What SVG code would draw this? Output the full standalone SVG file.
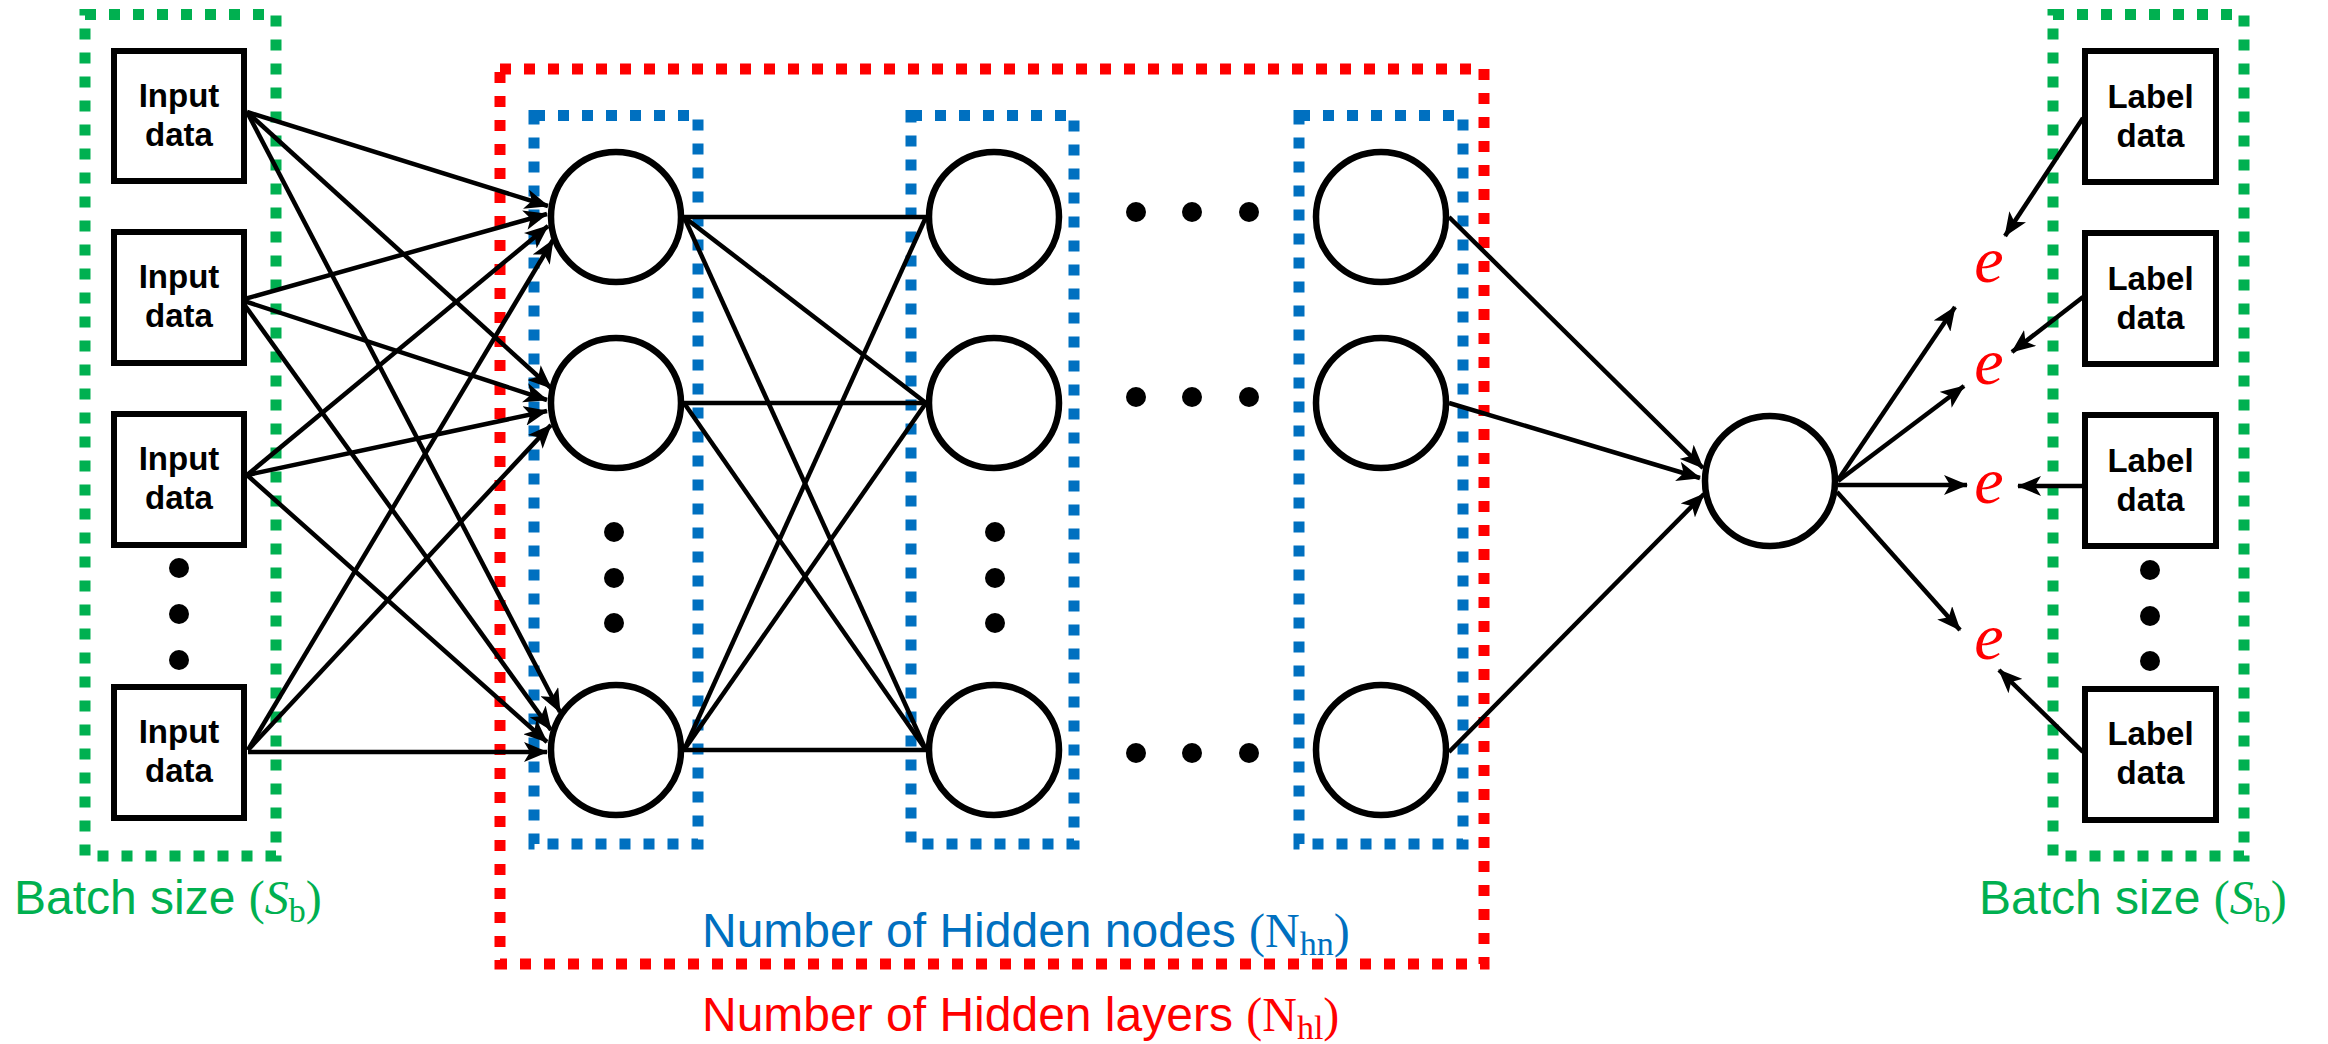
<svg xmlns="http://www.w3.org/2000/svg" width="2328" height="1044" viewBox="0 0 2328 1044">
<defs>
<marker id="ah" markerUnits="userSpaceOnUse" viewBox="0 0 24 20" refX="23" refY="10" markerWidth="24" markerHeight="20" orient="auto">
<path d="M24,10 L0,0 L6,10 L0,20 Z" fill="#000"/>
</marker>
<style>
.bg{fill:#fff}
.gbox{fill:none;stroke:#00B050;stroke-width:11;stroke-dasharray:11 13}
.bbox{fill:none;stroke:#0070C0;stroke-width:11;stroke-dasharray:11 13}
.rbox{fill:none;stroke:#FF0000;stroke-width:11;stroke-dasharray:11 13}
.box{fill:#fff;stroke:#000;stroke-width:6}
.neu{fill:#fff;stroke:#000;stroke-width:6.5}
.bt{font-family:"Liberation Sans",Arial,sans-serif;font-weight:bold;font-size:33px;fill:#000;text-anchor:middle}
.c{stroke:#000;stroke-width:4.5;fill:none}
.a{stroke:#000;stroke-width:4.5;fill:none;marker-end:url(#ah)}
.dot{fill:#000}
.lab{font-family:"Liberation Sans",Arial,sans-serif;font-size:48px}
.m{font-family:"Liberation Serif","DejaVu Serif",serif}
.e{font-family:"Liberation Serif","DejaVu Serif",serif;font-style:italic;font-size:66px;fill:#FF0000;text-anchor:middle}
</style>
</defs>
<rect class="bg" x="0" y="0" width="2328" height="1044"/>

<g id="groups">
<rect id="batch-in" class="gbox" x="85" y="14.5" width="191" height="841.5"/>
<rect id="batch-out" class="gbox" x="2053" y="14.5" width="191" height="841.5"/>
<rect id="hidden-layers" class="rbox" x="500" y="69" width="984" height="895"/>
<rect id="layer1" class="bbox" x="534" y="115.5" width="164" height="728.5"/>
<rect id="layer2" class="bbox" x="911" y="115.5" width="163" height="728.5"/>
<rect id="layer3" class="bbox" x="1299" y="115.5" width="164" height="728.5"/>
</g>

<g id="connectors">
<!-- inputs to layer 1 -->
<line class="a" x1="247" y1="112" x2="548" y2="206"/>
<line class="a" x1="247" y1="112" x2="551" y2="388"/>
<line class="a" x1="247" y1="112" x2="560" y2="712"/>
<line class="a" x1="241" y1="300" x2="547" y2="214"/>
<line class="a" x1="241" y1="300" x2="547" y2="400"/>
<line class="a" x1="241" y1="300" x2="551" y2="730"/>
<line class="a" x1="247" y1="475" x2="548" y2="226"/>
<line class="a" x1="247" y1="475" x2="547" y2="411"/>
<line class="a" x1="247" y1="475" x2="547" y2="742"/>
<line class="a" x1="248" y1="750" x2="553" y2="240"/>
<line class="a" x1="248" y1="750" x2="551" y2="425"/>
<line class="a" x1="248" y1="752" x2="547" y2="752"/>
<!-- layer 1 to layer 2 -->
<line class="c" x1="684" y1="217" x2="926" y2="217"/>
<line class="c" x1="684" y1="217" x2="926" y2="403"/>
<line class="c" x1="684" y1="217" x2="926" y2="750"/>
<line class="c" x1="684" y1="403" x2="926" y2="403"/>
<line class="c" x1="684" y1="403" x2="926" y2="750"/>
<line class="c" x1="684" y1="750" x2="926" y2="217"/>
<line class="c" x1="684" y1="750" x2="926" y2="403"/>
<line class="c" x1="684" y1="750" x2="926" y2="750"/>
<!-- layer 3 to output -->
<line class="a" x1="1449" y1="217" x2="1703" y2="468"/>
<line class="a" x1="1449" y1="403" x2="1700" y2="478"/>
<line class="a" x1="1449" y1="752" x2="1704" y2="494"/>
<!-- output to errors -->
<line class="a" x1="1838" y1="480" x2="1955" y2="307"/>
<line class="a" x1="1838" y1="481" x2="1964" y2="386"/>
<line class="a" x1="1838" y1="485" x2="1967" y2="485"/>
<line class="a" x1="1837" y1="492" x2="1960" y2="630"/>
<!-- labels to errors -->
<line class="a" x1="2083" y1="118" x2="2005" y2="236"/>
<line class="a" x1="2083" y1="297" x2="2012" y2="352"/>
<line class="a" x1="2083" y1="486" x2="2018" y2="486"/>
<line class="a" x1="2083" y1="752" x2="1999" y2="670"/>
</g>

<g id="in1"><rect class="box" x="114" y="51" width="130" height="130"/><text class="bt" x="179" y="107">Input</text><text class="bt" x="179" y="146">data</text></g>
<g id="in2"><rect class="box" x="114" y="232" width="130" height="131"/><text class="bt" x="179" y="288">Input</text><text class="bt" x="179" y="327">data</text></g>
<g id="in3"><rect class="box" x="114" y="414" width="130" height="131"/><text class="bt" x="179" y="470">Input</text><text class="bt" x="179" y="509">data</text></g>
<g id="in4"><rect class="box" x="114" y="687" width="130" height="131"/><text class="bt" x="179" y="743">Input</text><text class="bt" x="179" y="782">data</text></g>
<g id="in-dots"><circle class="dot" cx="179" cy="568" r="10"/><circle class="dot" cx="179" cy="614" r="10"/><circle class="dot" cx="179" cy="660" r="10"/></g>

<g id="lbl1"><rect class="box" x="2085" y="51" width="131" height="131"/><text class="bt" x="2150.5" y="108">Label</text><text class="bt" x="2150.5" y="147">data</text></g>
<g id="lbl2"><rect class="box" x="2085" y="233" width="131" height="131"/><text class="bt" x="2150.5" y="290">Label</text><text class="bt" x="2150.5" y="329">data</text></g>
<g id="lbl3"><rect class="box" x="2085" y="415" width="131" height="131"/><text class="bt" x="2150.5" y="472">Label</text><text class="bt" x="2150.5" y="511">data</text></g>
<g id="lbl4"><rect class="box" x="2085" y="689" width="131" height="131"/><text class="bt" x="2150.5" y="745">Label</text><text class="bt" x="2150.5" y="784">data</text></g>
<g id="lbl-dots"><circle class="dot" cx="2150" cy="570" r="10"/><circle class="dot" cx="2150" cy="616" r="10"/><circle class="dot" cx="2150" cy="661" r="10"/></g>

<g id="h1-1"><circle class="neu" cx="616" cy="217" r="65"/></g>
<g id="h1-2"><circle class="neu" cx="616" cy="403" r="65"/></g>
<g id="h1-3"><circle class="neu" cx="616" cy="750" r="65"/></g>
<g id="h1-dots"><circle class="dot" cx="614" cy="532" r="10"/><circle class="dot" cx="614" cy="578" r="10"/><circle class="dot" cx="614" cy="623" r="10"/></g>
<g id="h2-1"><circle class="neu" cx="994" cy="217" r="65"/></g>
<g id="h2-2"><circle class="neu" cx="994" cy="403" r="65"/></g>
<g id="h2-3"><circle class="neu" cx="994" cy="750" r="65"/></g>
<g id="h2-dots"><circle class="dot" cx="995" cy="532" r="10"/><circle class="dot" cx="995" cy="578" r="10"/><circle class="dot" cx="995" cy="623" r="10"/></g>
<g id="h3-1"><circle class="neu" cx="1381" cy="217" r="65"/></g>
<g id="h3-2"><circle class="neu" cx="1381" cy="403" r="65"/></g>
<g id="h3-3"><circle class="neu" cx="1381" cy="750" r="65"/></g>
<g id="layer-dots">
<circle class="dot" cx="1136" cy="212" r="10"/><circle class="dot" cx="1192" cy="212" r="10"/><circle class="dot" cx="1249" cy="212" r="10"/>
<circle class="dot" cx="1136" cy="397" r="10"/><circle class="dot" cx="1192" cy="397" r="10"/><circle class="dot" cx="1249" cy="397" r="10"/>
<circle class="dot" cx="1136" cy="753" r="10"/><circle class="dot" cx="1192" cy="753" r="10"/><circle class="dot" cx="1249" cy="753" r="10"/>
</g>
<g id="out"><circle class="neu" cx="1770" cy="481" r="65"/></g>

<g id="e1"><text class="e" x="1989" y="282">e</text></g>
<g id="e2"><text class="e" x="1989" y="384">e</text></g>
<g id="e3"><text class="e" x="1989" y="503">e</text></g>
<g id="e4"><text class="e" x="1989" y="659">e</text></g>

<g id="labels">
<text class="lab" x="14" y="914" fill="#00B050">Batch size <tspan class="m">(<tspan font-style="italic">S</tspan><tspan font-size="34" dy="8">b</tspan><tspan dy="-8">)</tspan></tspan></text>
<text class="lab" x="1979" y="914" fill="#00B050">Batch size <tspan class="m">(<tspan font-style="italic">S</tspan><tspan font-size="34" dy="8">b</tspan><tspan dy="-8">)</tspan></tspan></text>
<text class="lab" x="702" y="947" fill="#0070C0">Number of Hidden nodes <tspan class="m">(N<tspan font-size="34" dy="8">hn</tspan><tspan dy="-8">)</tspan></tspan></text>
<text class="lab" x="702" y="1031" fill="#FF0000">Number of Hidden layers <tspan class="m">(N<tspan font-size="34" dy="8">hl</tspan><tspan dy="-8">)</tspan></tspan></text>
</g>
</svg>
